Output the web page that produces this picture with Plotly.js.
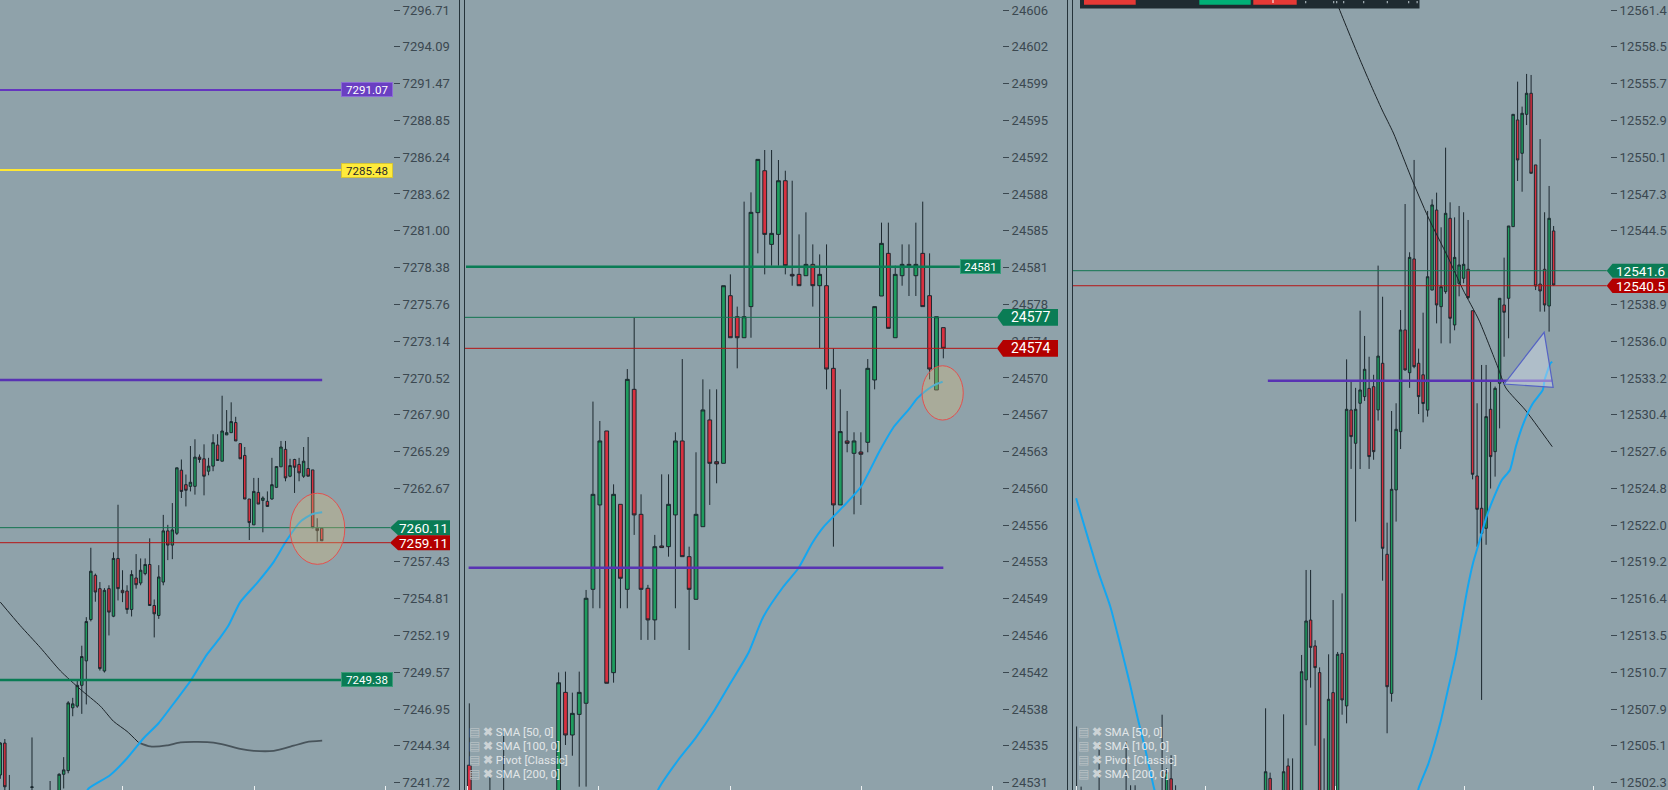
<!DOCTYPE html>
<html><head><meta charset="utf-8">
<script src="https://cdn.plot.ly/plotly-3.0.1.min.js"></script>
<style>html,body{margin:0;padding:0;background:#8fa2aa;overflow:hidden}#chart{width:1668px;height:790px}</style>
</head><body><div id="chart"></div>
<script>
// ---------------- DATA ----------------
const leftTickText = ['7296.71','7294.09','7291.47','7288.85','7286.24','7283.62','7281.00','7278.38','7275.76','7273.14','7270.52','7267.90','7265.29','7262.67','7260.05','7257.43','7254.81','7252.19','7249.57','7246.95','7244.34','7241.72'];
const midTickText = ['24606','24602','24599','24595','24592','24588','24585','24581','24578','24574','24570','24567','24563','24560','24556','24553','24549','24546','24542','24538','24535','24531'];
const rightTickText = ['12561.4','12558.5','12555.7','12552.9','12550.1','12547.3','12544.5','12541.7','12538.9','12536.0','12533.2','12530.4','12527.6','12524.8','12522.0','12519.2','12516.4','12513.5','12510.7','12507.9','12505.1','12502.3'];
// tick labels fully covered by price tags in the picture
const leftHiddenTick = '7260.05', rightHiddenTick = '12541.7';

// Left panel candles (bar index, OHLC)
const L_x = [0,1,2,7,11,13,14,15,16,17,18,19,20,21,22,23,24,25,26,27,28,29,30,31,32,33,34,35,36,37,38,39,40,41,42,43,44,45,46,47,48,49,50,51,52,53,54,55,56,57,58,59,60,61,62,63,64,65,66,67,68,69,70,71];
const L_open = [7242.27,7244.54,7240.90,7241.38,7240.50,7240.80,7242.32,
 7242.58,7247.05,7247.17,7248.65,7250.39,7253.33,7256.48,7255.53,7249.67,7255.53,
 7253.57,7257.68,7255.41,7255.36,7254.05,7256.29,7255.93,7256.60,7257.25,7254.33,
 7253.62,7256.00,7259.64,7258.63,7259.47,7263.96,7262.93,7262.81,7262.81,7264.89,
 7264.77,7263.89,7264.25,7265.75,7264.60,7266.47,7266.63,7267.35,7265.85,7265.01,
 7261.91,7260.07,7262.38,7261.81,7261.74,7261.91,7262.74,7264.20,7265.44,7263.53,
 7264.72,7264.37,7263.53,7264.08,7263.98,7259.83,7259.83];
const L_high = [7244.60,7244.83,7242.27,7244.94,7241.84,7242.39,7243.54,
 7247.52,7247.76,7248.96,7251.47,7253.50,7258.44,7256.60,7256.00,7255.57,7255.77,
 7258.11,7261.50,7256.84,7255.77,7256.84,7257.99,7257.68,7257.68,7259.11,7254.76,
 7257.20,7260.78,7260.07,7261.62,7264.13,7264.72,7263.65,7265.68,7266.16,7265.08,
 7265.80,7264.84,7266.52,7266.52,7269.26,7268.24,7268.79,7267.76,7265.85,7265.61,
 7261.91,7263.41,7263.41,7262.10,7262.45,7264.84,7264.22,7266.04,7266.04,7264.77,
 7264.77,7264.84,7265.61,7266.32,7263.98,7260.54,7259.83];
const L_low = [7242.00,7240.60,7240.00,7241.10,7239.80,7240.30,7241.31,
 7242.39,7246.45,7247.05,7246.62,7247.29,7253.20,7254.60,7249.70,7249.56,7252.20,
 7253.50,7254.69,7254.57,7253.74,7253.55,7255.53,7255.77,7256.48,7254.33,7252.06,
 7253.38,7255.77,7257.56,7257.63,7259.35,7261.98,7261.38,7262.45,7262.22,7264.49,
 7262.17,7263.60,7263.89,7264.65,7264.60,7266.47,7266.63,7266.04,7264.77,7261.91,
 7258.99,7260.07,7261.55,7259.54,7261.38,7261.86,7262.69,7264.20,7263.17,7263.46,
 7262.34,7263.17,7263.41,7263.53,7259.83,7258.87,7258.94];
const L_close = [7244.54,7241.43,7240.50,7241.42,7240.90,7242.32,7242.63,
 7247.40,7247.33,7248.65,7250.70,7253.19,7256.77,7255.29,7249.84,7255.41,7253.86,
 7257.68,7255.53,7255.24,7254.05,7256.53,7255.81,7256.84,7257.25,7254.33,7253.74,
 7256.36,7259.64,7258.63,7259.71,7264.13,7262.45,7262.53,7263.10,7264.89,7264.72,
 7263.53,7264.25,7265.92,7264.65,7266.75,7266.63,7267.42,7266.04,7264.77,7261.91,
 7260.23,7262.45,7261.55,7261.98,7261.38,7262.93,7264.22,7265.61,7263.41,7264.29,
 7264.17,7263.77,7264.60,7263.53,7259.87,7259.66,7258.94];
const L_sma50_x = [18.5,19.5,24.3,28.0,31.7,35.0,38.7,42.0,45.7,48.6,50.4,53.0,56.7,60.4,63.3,66.3,68.9,71.1];
const L_sma50_y = [7240.70,7241.31,7242.27,7243.46,7244.90,7245.97,7247.53,7248.96,7250.87,7252.06,7252.90,7254.57,7255.93,7257.44,7258.99,7260.30,7260.83,7260.97];
const L_sma100_x = [0,4.4,8.8,13.3,17.7,22.1,25.0,28.0,30.5];
const L_sma100_y = [7254.57,7252.90,7251.35,7249.67,7248.36,7247.17,7246.09,7245.37,7244.59];
const L_sma200_x = [30.5,33.1,36.8,39.8,45.7,48.6,53.0,56.0,60.4,64.8,67.7,71.1];
const L_sma200_y = [7244.59,7244.30,7244.37,7244.59,7244.61,7244.49,7244.13,7243.99,7243.99,7244.35,7244.61,7244.71];
const L_levels = [7291.02, 7285.32, 7270.38, 7259.87, 7258.80, 7249.03];
const L_levelText = ['7291.07','7285.48','','7260.11','7259.11','7249.38'];

// Middle panel candles
const M_x = [0,3,5,13,14,15,16,17,18,19,20,21,22,23,24,25,26,27,28,29,30,31,32,33,34,35,36,37,38,39,40,41,42,43,44,45,46,47,48,49,50,51,52,53,54,55,56,57,58,59,60,61,62,63,64,65,66,67,68,69];
const M_open = [24532.70,24529.60,24529.80,
 24529.80,24539.77,24535.63,24537.63,24538.71,24549.77,24557.96,24565.14,24541.68,24558.02,
 24549.77,24569.18,24557.05,24549.87,24546.80,24553.98,24553.91,24556.99,24564.17,24552.94,
 24548.80,24555.85,24566.21,24562.16,24562.00,24578.27,24576.23,24574.19,24577.21,24586.33,
 24590.40,24583.25,24584.22,24589.43,24580.34,24580.34,24580.21,24581.31,24579.24,24579.24,
 24571.22,24557.96,24564.17,24562.97,24563.10,24564.04,24570.09,24578.24,24582.38,24574.19,
 24580.21,24581.31,24580.21,24582.38,24578.27,24569.12,24575.17];
const M_high = [24538.70,24531.60,24536.00,
 24541.70,24541.78,24539.74,24541.78,24549.71,24567.99,24566.11,24565.14,24559.96,24558.02,
 24571.15,24576.14,24558.99,24550.20,24555.05,24560.93,24560.93,24565.01,24572.12,24553.91,
 24563.07,24570.15,24569.18,24569.18,24579.24,24580.34,24577.21,24587.40,24588.30,24591.50,
 24592.41,24592.41,24591.44,24590.40,24589.43,24584.22,24586.36,24583.25,24582.28,24583.25,
 24573.16,24569.18,24567.08,24565.01,24565.01,24572.12,24577.21,24585.36,24585.36,24581.18,
 24583.25,24583.25,24585.36,24587.40,24582.38,24576.23,24575.17];
const M_low = [24528.50,24527.50,24527.80,
 24529.00,24534.66,24533.62,24530.61,24530.62,24547.93,24547.93,24540.65,24540.71,24547.93,
 24547.93,24555.05,24544.86,24544.86,24544.86,24553.82,24552.94,24547.93,24552.94,24543.88,
 24548.80,24555.85,24557.96,24560.06,24562.00,24574.19,24571.22,24574.19,24574.19,24582.38,
 24580.34,24581.18,24581.18,24580.34,24579.24,24579.24,24580.21,24577.21,24573.16,24569.18,
 24553.91,24557.96,24563.07,24557.05,24557.96,24563.07,24569.18,24578.24,24575.10,24574.19,
 24579.24,24578.24,24578.24,24577.21,24570.15,24569.12,24572.19];
const M_close = [24529.50,24529.00,24529.30,
 24540.70,24535.63,24537.73,24539.77,24548.90,24558.99,24564.17,24540.65,24558.99,24550.84,
 24570.15,24556.99,24549.77,24546.80,24553.91,24553.82,24558.02,24564.17,24552.94,24549.77,
 24557.05,24567.18,24562.00,24561.94,24579.24,24574.19,24574.19,24576.23,24586.36,24591.50,
 24584.22,24584.32,24589.43,24581.18,24580.18,24579.24,24581.31,24579.24,24580.34,24571.15,
 24557.96,24565.08,24563.94,24564.17,24562.88,24571.22,24577.21,24583.35,24575.10,24580.34,
 24581.31,24581.18,24581.31,24577.21,24571.15,24576.23,24573.16];
const M_sma50_x = [26.3,27.6,30.4,32.9,35.7,38.0,40.6,42.8,45.7,47.9,49.9,51.6,54.4,57.0,59.8,61.8,64.1,65.2,66.6,67.7,68.9];
const M_sma50_y = [24528.35,24530.46,24533.20,24535.31,24538.06,24540.65,24543.56,24547.11,24550.02,24551.81,24554.24,24555.85,24557.79,24559.73,24563.29,24565.55,24567.34,24568.31,24569.12,24569.60,24569.92];
const M_levels = [24581.08, 24576.17, 24573.16, 24551.87];
const M_levelText = ['24581','24577','24574',''];

// Right panel candles
const R_x = [0,1,5,11,12,13,19,20,21,22,42,43,46,47,48,50,51,52,53,54,55,56,57,58,59,60,61,62,63,64,65,66,67,68,69,70,71,72,73,74,75,76,77,78,79,80,81,82,83,84,85,86,87,88,89,90,91,92,93,94,95,96,97,98,99,100,101,102,103,104,105,106];
const R_open = [12501.0,12501.2,12501.0,12501.0,12501.3,12501.0,12501.2,12501.0,12502.6,12501.1,
 12501.0,12502.63,12501.2,12503.58,12501.5,
 12501.3,12510.16,12514.74,12512.76,12510.72,12501.5,12501.0,12509.19,12501.5,12512.19,
 12508.17,12530.81,12528.26,12531.32,12531.83,12532.46,12532.59,12530.81,12534.38,12519.77,
 12509.13,12524.69,12529.15,12536.93,12533.66,12542.36,12534.38,12533.5,12530.8,12539.98,
 12546.10,12538.71,12539.86,12545.47,12537.31,12540.49,12540.88,12541.57,12538.40,12525.76,
 12523.29,12521.76,12530.86,12527.62,12532.85,12538.84,12539.35,12544.83,12552.99,12550.44,
 12553.42,12555.03,12549.55,12540.44,12541.57,12538.76,12544.50];
const R_high = [12506.6,12502.0,12505.44,12505.44,12502.1,12502.1,12507.5,12503.4,12504.4,12502.1,
 12507.99,12503.07,12507.53,12504.16,12504.16,
 12512.07,12518.57,12518.57,12513.2,12511.12,12505.69,12512.12,12516.27,12512.3,12516.78,
 12534.68,12533.10,12532.5,12538.40,12536.47,12534.88,12533.5,12541.85,12539.47,12522.19,
 12530.73,12531.32,12538.45,12546.56,12542.87,12549.93,12535.5,12538.25,12546.03,12546.92,
 12547.43,12544.78,12550.87,12546.69,12545.54,12546.41,12545.93,12545.34,12538.40,12531.32,
 12534.25,12534.25,12533.0,12532.6,12539.35,12542.46,12544.88,12553.42,12555.92,12554.01,
 12556.51,12556.43,12549.55,12551.53,12545.93,12547.94,12544.88];
const R_low = [12500.5,12500.8,12500.5,12500.5,12500.8,12500.6,12500.5,12500.5,12500.9,12500.6,
 12500.5,12500.5,12500.7,12500.8,12500.6,
 12500.8,12506.7,12509.57,12505.13,12500.5,12500.6,12500.5,12500.5,12501.0,12507.5,
 12506.84,12526.3,12522.27,12526.29,12531.5,12526.3,12527.0,12530.0,12517.75,12506.08,
 12508.5,12522.27,12527.82,12533.82,12532.5,12534.0,12530.5,12529.86,12530.3,12539.98,
 12537.43,12535.90,12539.7,12535.90,12536.9,12539.5,12540.5,12539.3,12525.5,12520.35,
 12508.63,12520.5,12524.8,12525.71,12529.4,12534.88,12536.29,12544.83,12548.32,12547.5,
 12552.6,12548.91,12539.98,12538.33,12538.33,12536.80,12540.3];
const R_close = [12501.3,12501.0,12501.4,12501.3,12501.0,12501.4,12501.5,12503.1,12501.1,12501.3,
 12503.14,12501.0,12503.14,12501.3,12501.0,
 12510.79,12514.67,12512.65,12511.10,12501.2,12501.0,12508.68,12501.2,12512.12,12508.63,
 12530.86,12528.77,12530.86,12532.34,12533.92,12527.24,12527.62,12534.93,12520.23,12509.64,
 12524.74,12529.33,12536.93,12533.87,12542.48,12534.12,12531.83,12531.3,12541.00,12546.49,
 12538.84,12540.24,12545.85,12537.82,12542.48,12541.90,12541.95,12539.40,12525.89,12523.21,
 12521.37,12530.30,12527.24,12532.46,12539.35,12538.28,12544.88,12553.42,12549.93,12553.50,
 12555.03,12548.91,12540.29,12539.91,12538.84,12545.47,12540.37];
const R_sma50a_x = [-0.1,4.9,7.5,9.6,11.8,13.5,15.3,17.2,18.5];
const R_sma50a_y = [12524.05,12518.34,12515.76,12512.98,12509.93,12507.35,12504.80,12501.89,12500.2];
const R_sma50b_x = [75.2,76.0,78.2,80.8,82.5,84.2,85.5,86.8,88.1,89.4,91.1,92.8,94.5,96.3,97.6,99.3,101.4,103.6,104.0,105.3,105.7];
const R_sma50b_y = [12500.2,12501.87,12503.78,12506.84,12509.39,12511.94,12514.49,12517.04,12519.10,12520.63,12522.65,12524.18,12525.45,12526.22,12528.00,12529.79,12531.32,12532.34,12533.10,12534.38,12534.50];
const R_sma100_x = [57.0,57.6,62.7,65.2,67.9,70.4,74.3,78.1,82.5,85.9,89.4,93.6,95.4,99.7,105.7];
const R_sma100_y = [12562.93,12562.17,12557.83,12555.82,12553.75,12551.99,12548.63,12545.57,12542.51,12539.98,12537.69,12534.09,12532.49,12530.81,12528.00];
const R_levels = [12541.46, 12540.31, 12533.05];
const R_levelText = ['12541.6','12540.5',''];
const R_triangle_x = [95.0, 103.9, 105.9];
const R_triangle_y = [12532.79, 12536.75, 12532.54];
const legendRows = ['SMA [50, 0]','SMA [100, 0]','Pivot [Classic]','SMA [200, 0]'];

// ---------------- LAYOUT ----------------
const W = 1668, H = 790;
const BG = '#8fa2aa';
const TXT = '#3b4850';
const GREEN = '#1e9c5e', RED = '#d8303f', EDGE = '#1c282f';
const TAGG = '#0a7c55', TAGR = '#b30000';
const px = v => v / W, py = v => 1 - v / H;

function yAxisFrom(ticks, hidden){
  const top = parseFloat(ticks[0]), bot = parseFloat(ticks[ticks.length-1]);
  const u = (top - bot) / (782.7 - 10);
  const step = (top - bot) / (ticks.length - 1);
  return {u, range:[bot - (H - 782.7) * u, top + 10 * u],
    tickvals: ticks.map((_, k) => top - k * step),
    ticktext: ticks.map(t => t === hidden ? '' : t)};
}
const yl = yAxisFrom(leftTickText, leftHiddenTick), ym = yAxisFrom(midTickText, null), yr = yAxisFrom(rightTickText, rightHiddenTick);

// panel pixel geometry: [plot left, plot right, first bar px, bar spacing]
const PL = [0, 393, 0.3, 4.527], PM = [465, 1002, 469.3, 6.87], PR = [1073, 1610, 1076.6, 4.5];
const xr = p => [(p[0] - p[2]) / p[3], (p[1] - p[2]) / p[3]];

const xbase = {showgrid:false, zeroline:false, showline:false, showticklabels:false, ticks:'inside', ticklen:4, tickwidth:1, tickcolor:'#eef1f2', rangeslider:{visible:false}, fixedrange:true, tickmode:'linear'};
const ybase = {side:'right', showgrid:false, zeroline:false, showline:false, ticks:'outside', ticklen:6, tickwidth:1, tickcolor:TXT, tickfont:{family:'Roboto', size:13, color:TXT}, tickmode:'array', fixedrange:true, automargin:false, ticklabeloverflow:'allow'};

function candle(x,o,h,l,c,xa,ya){
  return {type:'candlestick', x:x, open:o, high:h, low:l, close:c, xaxis:xa, yaxis:ya,
    increasing:{line:{color:EDGE,width:1}, fillcolor:GREEN},
    decreasing:{line:{color:EDGE,width:1}, fillcolor:RED},
    whiskerwidth:0, hoverinfo:'skip'};
}
function line(x,y,xa,ya,color,width){
  return {type:'scatter', mode:'lines', x:x, y:y, xaxis:xa, yaxis:ya, line:{color:color,width:width,shape:'spline',smoothing:0.6}, hoverinfo:'skip'};
}

const data = [
  candle(L_x,L_open,L_high,L_low,L_close,'x','y'),
  line(L_sma100_x,L_sma100_y,'x','y','#1b2227',1),
  line(L_sma200_x,L_sma200_y,'x','y','#48545b',1.8),
  line(L_sma50_x,L_sma50_y,'x','y','#14a6f0',2),
  candle(M_x,M_open,M_high,M_low,M_close,'x2','y2'),
  line(M_sma50_x,M_sma50_y,'x2','y2','#14a6f0',2),
  candle(R_x,R_open,R_high,R_low,R_close,'x3','y3'),
  line(R_sma100_x,R_sma100_y,'x3','y3','#1b2227',1),
  line(R_sma50a_x,R_sma50a_y,'x3','y3','#14a6f0',2),
  line(R_sma50b_x,R_sma50b_y,'x3','y3','#14a6f0',2)
];

const shapes = [], annotations = [];
function hline(xa, ya, x0, x1, y, color, width){
  shapes.push({type:'line', xref:xa, yref:ya, x0:x0, x1:x1, y0:y, y1:y, line:{color:color,width:width}, layer:'above'});
}
// Left levels
hline('x','y',-1,75.3,L_levels[0],'#6436bf',2);
hline('x','y',-1,75.3,L_levels[1],'#ffe733',2);
hline('x','y',-1,71.1,L_levels[2],'#5833b3',2.5);
hline('x','y',-1,86.1,L_levels[3],'#137550',1);
hline('x','y',-1,86.1,L_levels[4],'#b51515',1);
hline('x','y',-1,75.3,L_levels[5],'#0a7c55',2.5);
// Middle levels
hline('x2','y2',-0.48,71.4,M_levels[0],'#0a7c55',2.5);
hline('x2','y2',-1,76.8,M_levels[1],'#137550',1);
hline('x2','y2',-1,76.8,M_levels[2],'#b51515',1);
hline('x2','y2',-0.1,69.0,M_levels[3],'#5833b3',2.5);
// Right levels
hline('x3','y3',-1,117.8,R_levels[0],'#137550',1);
hline('x3','y3',-1,117.8,R_levels[1],'#b51515',1);
hline('x3','y3',42.5,105.7,R_levels[2],'#5833b3',2.5);

// triangle drawing
shapes.push({type:'path', xref:'x3', yref:'y3',
  path:'M'+R_triangle_x.map((v,i)=>v+','+R_triangle_y[i]).join(' L')+' Z',
  fillcolor:'rgba(214,224,240,0.45)', line:{color:'#5563c4',width:1.2}, layer:'above'});
// ellipses
shapes.push({type:'circle', xref:'x', yref:'y', x0:64.0, x1:76.1, y0:7257.26, y1:7262.32, fillcolor:'rgba(232,192,120,0.30)', line:{color:'#e4504e',width:1}, layer:'above'});
shapes.push({type:'circle', xref:'x2', yref:'y2', x0:65.9, x1:71.9, y0:24566.20, y1:24571.47, fillcolor:'rgba(232,192,120,0.30)', line:{color:'#e4504e',width:1}, layer:'above'});

// panel borders
[459.5, 464.5, 1067.5, 1072.5].forEach(x => shapes.push({type:'line', xref:'paper', yref:'paper', x0:px(x), x1:px(x), y0:0, y1:1, line:{color:'#25333a',width:1}, layer:'above'}));

// tags
function boxTag(xc, ya, y, text, bg, border, color, w, fs){
  annotations.push({xref:'paper', yref:ya, x:px(xc), y:y, xanchor:'center', yanchor:'middle', showarrow:false,
    text:text, bgcolor:bg, bordercolor:border, borderwidth:1, borderpad:1, width:w, height:11,
    font:{family:'Roboto', size:fs, color:color}});
}
function arrowTag(xp, xb, xe, ya, y, half, u, color, text, fs){
  const a = y + half*u, b = y - half*u;
  shapes.push({type:'path', xref:'paper', yref:ya, layer:'above', fillcolor:color, line:{width:0},
    path:`M${px(xp)},${y} L${px(xb)},${a} L${px(xe)},${a} L${px(xe)},${b} L${px(xb)},${b} Z`});
  annotations.push({xref:'paper', yref:ya, x:px((xb+xe)/2), y:y, xanchor:'center', yanchor:'middle', showarrow:false,
    text:text, font:{family:'Roboto', size:fs, color:'#ffffff'}});
}
boxTag(367,'y',L_levels[0],L_levelText[0],'#6a3fc2','#8b6bd6','#ffffff',48,11.5);
boxTag(367,'y',L_levels[1],L_levelText[1],'#ffeb3b','#d6c634','#2a2a2a',48,11.5);
boxTag(367,'y',L_levels[5],L_levelText[5],TAGG,'#3a9c78','#ffffff',48,11.5);
arrowTag(390,398,450,'y',L_levels[3],7.5,yl.u,TAGG,L_levelText[3],13.5);
arrowTag(390,398,450,'y',L_levels[4],7.5,yl.u,TAGR,L_levelText[4],13.5);
boxTag(980.5,'y2',M_levels[0],M_levelText[0],TAGG,'#34a07a','#ffffff',37,11.5);
arrowTag(997,1003,1058,'y2',M_levels[1],8.3,ym.u,TAGG,M_levelText[1],14);
arrowTag(997,1003,1058,'y2',M_levels[2],8.3,ym.u,TAGR,M_levelText[2],14);
arrowTag(1606.7,1612.5,1668,'y3',R_levels[0],7,yr.u,TAGG,R_levelText[0],13.5);
arrowTag(1606.7,1612.5,1668,'y3',R_levels[1],7.2,yr.u,TAGR,R_levelText[1],13.5);

// indicator legends
[467, 1076].forEach(x0 => {
  legendRows.forEach((t, i) => annotations.push({xref:'paper', yref:'paper', x:px(x0), y:py(732.3 + i*14), xanchor:'left', yanchor:'middle', showarrow:false,
    text:'<span style="color:#b7c0c4">▤</span> <span style="color:#ccd3d6"><b>✖</b></span> ' + t,
    font:{family:'Roboto', size:11.5, color:'#e2e6e8'}}));
});

// toolbar (top of right panel)
function prect(x0,x1,y0,y1,color){ shapes.push({type:'rect', xref:'paper', yref:'paper', x0:px(x0), x1:px(x1), y0:py(y1), y1:py(y0), fillcolor:color, line:{width:0}, layer:'above'}); }
prect(1080,1419.5,-2,8.5,'#1f2b31');
prect(1084,1135.7,-2,4.7,'#e53935');
prect(1199.3,1250.7,-2,4.7,'#00b076');
prect(1253.3,1296.7,-2,4.7,'#e53935');
prect(1272.5,1273.5,0,3,'#ffffff');
[1305,1333,1336,1343,1363,1386.7,1408,1416.5].forEach(x => prect(x, x+1.3, 1, 3.2, '#9aa6ac'));

const layout = {
  width:W, height:H, margin:{l:0,r:0,t:0,b:0,pad:0},
  paper_bgcolor:BG, plot_bgcolor:BG, showlegend:false, hovermode:false, dragmode:false,
  boxgap:0.45, boxgroupgap:0,
  font:{family:'Roboto, sans-serif', color:TXT},
  xaxis: Object.assign({}, xbase, {domain:[px(PL[0]), px(PL[1])], range:xr(PL), anchor:'y', tick0:27.1, dtick:29}),
  yaxis: Object.assign({}, ybase, {anchor:'x', range:yl.range, tickvals:yl.tickvals, ticktext:yl.ticktext}),
  xaxis2: Object.assign({}, xbase, {domain:[px(PM[0]), px(PM[1])], range:xr(PM), anchor:'y2', tick0:18.86, dtick:19.1}),
  yaxis2: Object.assign({}, ybase, {anchor:'x2', range:ym.range, tickvals:ym.tickvals, ticktext:ym.ticktext}),
  xaxis3: Object.assign({}, xbase, {domain:[px(PR[0]), px(PR[1])], range:xr(PR), anchor:'y3', tick0:-0.07, dtick:28.75}),
  yaxis3: Object.assign({}, ybase, {anchor:'x3', range:yr.range, tickvals:yr.tickvals, ticktext:yr.ticktext}),
  shapes:shapes, annotations:annotations
};
Plotly.newPlot('chart', data, layout, {displayModeBar:false, staticPlot:true});
</script></body></html>
